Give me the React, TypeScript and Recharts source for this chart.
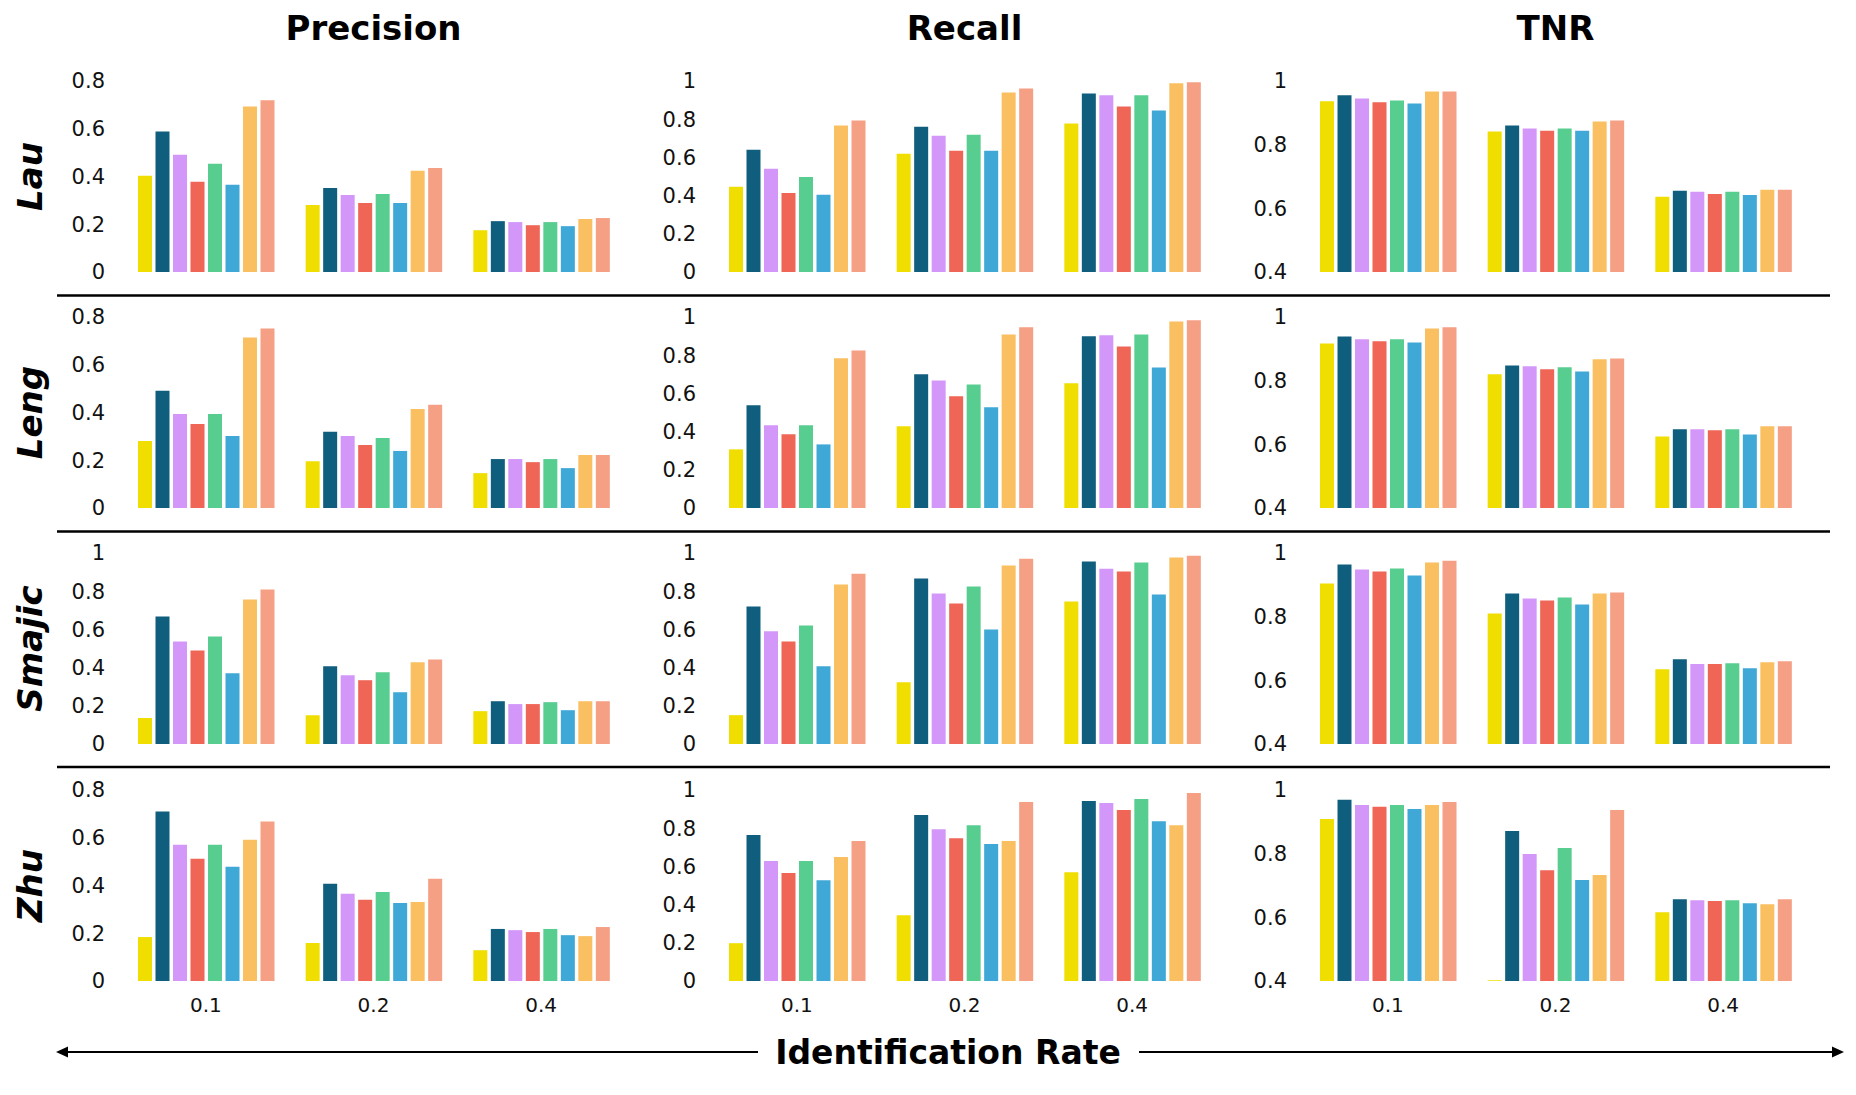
import React from 'react';
import { BarChart, Bar, XAxis, YAxis } from 'recharts';

const rates = ['0.1', '0.2', '0.4'];
const metricTitles = ['Precision', 'Recall', 'TNR'];
const datasetNames = ['Lau', 'Leng', 'Smajic', 'Zhu'];
const barColors = ['#EFDE00', '#0F5E7E', '#D397FA', '#EF6556', '#58CD90', '#3FA8D6', '#F9BF61', '#F59F84'];

// rows = identification rate (0.1, 0.2, 0.4), columns = the 8 methods
const lauPrecision = [
  [0.403, 0.589, 0.491, 0.378, 0.453, 0.365, 0.693, 0.719],
  [0.281, 0.352, 0.323, 0.289, 0.327, 0.289, 0.424, 0.436],
  [0.175, 0.213, 0.209, 0.196, 0.209, 0.192, 0.222, 0.226],
];
const lauRecall = [
  [0.446, 0.64, 0.54, 0.414, 0.498, 0.404, 0.767, 0.793],
  [0.619, 0.761, 0.714, 0.635, 0.719, 0.635, 0.94, 0.961],
  [0.777, 0.935, 0.925, 0.867, 0.925, 0.846, 0.988, 0.993],
];
const lauTnr = [
  [0.936, 0.955, 0.945, 0.933, 0.939, 0.929, 0.967, 0.967],
  [0.841, 0.86, 0.851, 0.844, 0.851, 0.844, 0.873, 0.876],
  [0.636, 0.655, 0.652, 0.645, 0.652, 0.642, 0.658, 0.658],
];
const lengPrecision = [
  [0.281, 0.491, 0.394, 0.352, 0.394, 0.302, 0.714, 0.752],
  [0.196, 0.319, 0.302, 0.264, 0.293, 0.239, 0.415, 0.432],
  [0.146, 0.205, 0.205, 0.192, 0.205, 0.167, 0.222, 0.222],
];
const lengRecall = [
  [0.307, 0.538, 0.433, 0.386, 0.433, 0.333, 0.784, 0.825],
  [0.428, 0.7, 0.668, 0.585, 0.647, 0.527, 0.909, 0.946],
  [0.653, 0.899, 0.904, 0.846, 0.909, 0.736, 0.977, 0.983],
];
const lengTnr = [
  [0.917, 0.939, 0.93, 0.924, 0.93, 0.92, 0.964, 0.968],
  [0.82, 0.848, 0.845, 0.836, 0.842, 0.829, 0.867, 0.87],
  [0.625, 0.647, 0.647, 0.644, 0.647, 0.631, 0.657, 0.657],
];
const smajicPrecision = [
  [0.136, 0.668, 0.537, 0.49, 0.563, 0.37, 0.757, 0.809],
  [0.151, 0.407, 0.36, 0.334, 0.376, 0.271, 0.428, 0.443],
  [0.172, 0.224, 0.209, 0.209, 0.219, 0.177, 0.224, 0.224],
];
const smajicRecall = [
  [0.151, 0.72, 0.59, 0.537, 0.621, 0.407, 0.835, 0.892],
  [0.323, 0.866, 0.788, 0.736, 0.824, 0.6, 0.934, 0.97],
  [0.746, 0.955, 0.918, 0.903, 0.95, 0.783, 0.976, 0.986],
];
const smajicTnr = [
  [0.904, 0.964, 0.948, 0.942, 0.951, 0.929, 0.97, 0.976],
  [0.81, 0.873, 0.857, 0.851, 0.86, 0.838, 0.873, 0.876],
  [0.635, 0.666, 0.651, 0.651, 0.654, 0.638, 0.657, 0.66],
];
const zhuPrecision = [
  [0.184, 0.71, 0.571, 0.512, 0.571, 0.479, 0.592, 0.668],
  [0.159, 0.407, 0.365, 0.34, 0.373, 0.327, 0.331, 0.428],
  [0.129, 0.218, 0.213, 0.205, 0.218, 0.192, 0.188, 0.226],
];
const zhuRecall = [
  [0.198, 0.764, 0.628, 0.565, 0.628, 0.528, 0.649, 0.733],
  [0.344, 0.869, 0.795, 0.748, 0.816, 0.717, 0.733, 0.937],
  [0.57, 0.942, 0.932, 0.895, 0.953, 0.837, 0.816, 0.984],
];
const zhuTnr = [
  [0.909, 0.969, 0.953, 0.947, 0.953, 0.94, 0.953, 0.962],
  [0.402, 0.871, 0.799, 0.748, 0.818, 0.717, 0.733, 0.937],
  [0.616, 0.657, 0.654, 0.651, 0.654, 0.644, 0.641, 0.657],
];

const ticksTo08 = [0, 0.2, 0.4, 0.6, 0.8];
const ticksTo1 = [0, 0.2, 0.4, 0.6, 0.8, 1];
const ticksTnr = [0.4, 0.6, 0.8, 1];

const panelValues = [
  [lauPrecision, lauRecall, lauTnr],
  [lengPrecision, lengRecall, lengTnr],
  [smajicPrecision, smajicRecall, smajicTnr],
  [zhuPrecision, zhuRecall, zhuTnr],
];
const panelTicks = [
  [ticksTo08, ticksTo1, ticksTnr],
  [ticksTo08, ticksTo1, ticksTnr],
  [ticksTo1, ticksTo1, ticksTnr],
  [ticksTo08, ticksTo1, ticksTnr],
];

// layout (px)
const colX = [122, 713, 1304];
const plotW = 503;
const rowY = [81, 317, 553, 790];
const plotH = 191;
const axisW = 60;
const padTop = 15;
const xAxisH = 45;

const TICK_FONT = '"DejaVu Sans", sans-serif';
const BOLD = '"DejaVu Sans", sans-serif';

const toRows = (values: number[][]) =>
  rates.map((rate, i) => {
    const row: Record<string, string | number> = { rate };
    values[i].forEach((v, j) => (row['m' + j] = v));
    return row;
  });

const Panel = ({ r, c }: { r: number; c: number }) => {
  const ticks = panelTicks[r][c];
  const last = r === rowY.length - 1;
  return (
    <div style={{ position: 'absolute', left: colX[c] - axisW, top: rowY[r] - padTop }}>
      <BarChart
        width={axisW + plotW + 6}
        height={padTop + plotH + xAxisH}
        data={toRows(panelValues[r][c])}
        margin={{ top: padTop, right: 6, bottom: 0, left: 0 }}
        barSize={14}
        barGap={3.5}
      >
        <XAxis
          dataKey="rate"
          height={xAxisH}
          axisLine={false}
          tickLine={false}
          tick={last ? { fontSize: 20, fill: '#111', fontFamily: TICK_FONT } : false}
          tickMargin={11}
        />
        <YAxis
          width={axisW}
          domain={[ticks[0], ticks[ticks.length - 1]]}
          ticks={ticks}
          allowDataOverflow
          axisLine={false}
          tickLine={false}
          tickMargin={11}
          interval={0}
          tick={{ fontSize: 21, fill: '#111', fontFamily: TICK_FONT }}
        />
        {barColors.map((color, j) => (
          <Bar key={j} dataKey={'m' + j} fill={color} isAnimationActive={false} />
        ))}
      </BarChart>
    </div>
  );
};

export default function App() {
  return (
    <div style={{ position: 'absolute', left: 0, top: 0, width: 1856, height: 1095, background: '#fff' }}>
      {rowY.map((_, r) => colX.map((__, c) => <Panel key={r + '-' + c} r={r} c={c} />))}
      <svg width={1856} height={1095} style={{ position: 'absolute', left: 0, top: 0, pointerEvents: 'none' }}>
        {metricTitles.map((t, c) => (
          <text key={t} x={colX[c] + plotW / 2} y={28} textAnchor="middle" dominantBaseline="central"
            fontFamily={BOLD} fontWeight={700} fontSize={34} fill="#000">{t}</text>
        ))}
        {datasetNames.map((n, r) => (
          <text key={n} transform={`translate(30,${rowY[r] + plotH / 2}) rotate(-90)`} textAnchor="middle"
            dominantBaseline="central" fontFamily={BOLD} fontWeight={700} fontStyle="italic" fontSize={34} fill="#000">{n}</text>
        ))}
        {[295.5, 531.5, 767].map((y) => (
          <line key={y} x1={57} x2={1830} y1={y} y2={y} stroke="#000" strokeWidth={2.5} />
        ))}
        <line x1={62} x2={758} y1={1052} y2={1052} stroke="#000" strokeWidth={2} />
        <polygon points="56,1052 68,1046.5 68,1057.5" fill="#000" />
        <line x1={1139} x2={1837} y1={1052} y2={1052} stroke="#000" strokeWidth={2} />
        <polygon points="1844,1052 1832,1046.5 1832,1057.5" fill="#000" />
        <text x={948} y={1052} textAnchor="middle" dominantBaseline="central" fontFamily={BOLD}
          fontWeight={700} fontSize={33} fill="#000">Identification Rate</text>
      </svg>
    </div>
  );
}
